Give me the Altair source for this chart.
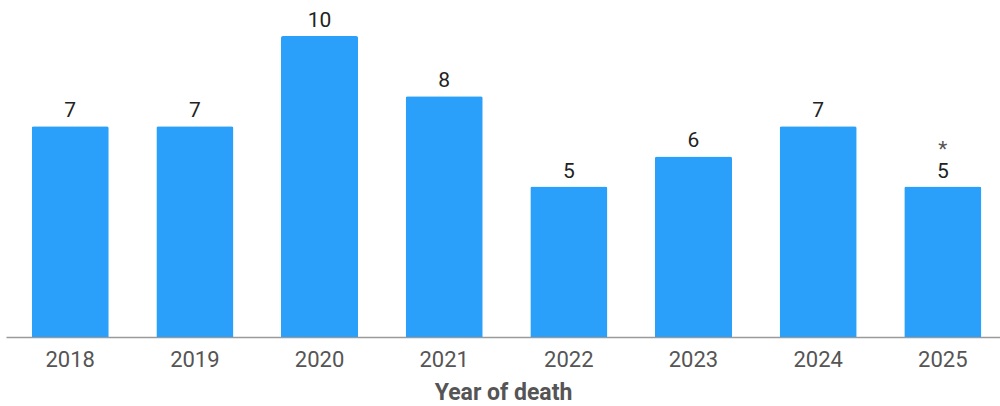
import altair as alt
import pandas as pd

years = ["2018", "2019", "2020", "2021", "2022", "2023", "2024", "2025"]
deaths = [7, 7, 10, 8, 5, 6, 7, 5]
notes = ["", "", "", "", "", "", "", "*"]

df = pd.DataFrame({"year": years, "deaths": deaths, "note": notes})

FONT = "Roboto"
BLUE = "#2ba0fa"

x = alt.X(
    "year:N",
    sort=years,
    title="Year of death",
    scale=alt.Scale(paddingInner=0.382, paddingOuter=0.178, align=0.579),
    axis=alt.Axis(
        labelAngle=0,
        labelFont=FONT,
        labelFontSize=22,
        labelColor="#555555",
        labelPadding=12,
        ticks=False,
        tickSize=0,
        domainColor="#9a9a9a",
        domainWidth=1.5,
        titleFont=FONT,
        titleFontSize=23,
        titleFontWeight="bold",
        titleColor="#555555",
        titlePadding=11,
    ),
)
y = alt.Y("deaths:Q", scale=alt.Scale(domain=[0, 10]), axis=None)

base = alt.Chart(df).encode(x=x, y=y)

bars = base.mark_bar(color=BLUE, cornerRadiusTopLeft=2, cornerRadiusTopRight=2)
labels = base.mark_text(
    dy=-9, baseline="alphabetic", font=FONT, fontSize=21, color="#222222"
).encode(text="deaths:Q")
stars = base.mark_text(
    dy=-31, baseline="alphabetic", font=FONT, fontSize=21, color="#555555"
).encode(text="note:N")

chart = (
    alt.layer(bars, labels, stars)
    .properties(
        width=994,
        height=301,
        background="white",
        autosize=alt.AutoSizeParams(type="none"),
        padding={"left": 6, "top": 36, "right": 0, "bottom": 69},
    )
    .configure_view(stroke=None, strokeWidth=0)
)

chart.save("out.html", embed_options={"renderer": "svg", "actions": False})
